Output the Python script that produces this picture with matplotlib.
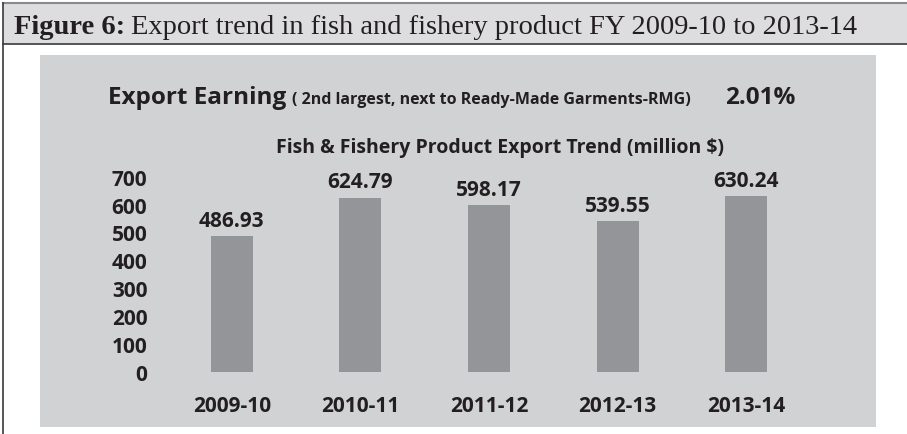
import matplotlib
matplotlib.use("Agg")
import matplotlib.pyplot as plt
from matplotlib.patches import Rectangle
from matplotlib.lines import Line2D

# Export values, million US$
years = ["2009-10", "2010-11", "2011-12", "2012-13", "2013-14"]
exports = [486.93, 624.79, 598.17, 539.55, 630.24]
y_ticks = [0, 100, 200, 300, 400, 500, 600, 700]
share_text = "2.01%"

W, H = 907, 435
DPI = 100
fig = plt.figure(figsize=(W / DPI, H / DPI), dpi=DPI)
fig.patch.set_facecolor("white")

SANS = "Open Sans"
SERIF = "Liberation Serif"
INK = "#231f20"
PANEL = "#d1d2d4"
BAR = "#939598"
HEADER = "#dddddf"


def fx(px):
    return px / W


def fy(py):
    return 1 - py / H


# header band with its frame
fig.patches.append(Rectangle((fx(3), fy(45)), fx(W - 3), 41 / H,
                             transform=fig.transFigure, facecolor=HEADER,
                             edgecolor="none", zorder=-2))
fig.lines.append(Line2D([fx(3), 1], [fy(4), fy(4)], transform=fig.transFigure,
                        color="#8a8a8a", lw=1.5))
fig.lines.append(Line2D([fx(3), 1], [fy(45), fy(45)], transform=fig.transFigure,
                        color="#3a3a3a", lw=1.2))
fig.lines.append(Line2D([fx(3), fx(3)], [fy(4), 0], transform=fig.transFigure,
                        color="#3a3a3a", lw=1.2))

# chart panel
fig.patches.append(Rectangle((fx(40), fy(428)), fx(876 - 40), (428 - 56) / H,
                             transform=fig.transFigure, facecolor=PANEL,
                             edgecolor="none", zorder=-2))

# header caption
renderer = fig.canvas.get_renderer()
t1 = fig.text(fx(14), fy(34), "Figure 6:", fontfamily=SERIF, fontweight="bold",
              fontsize=20.5, color=INK, va="baseline", ha="left")
bb = t1.get_window_extent(renderer)
fig.text((bb.x1 + 6) / W, fy(34),
         "Export trend in fish and fishery product FY 2009-10 to 2013-14",
         fontfamily=SERIF, fontsize=20.5, color=INK, va="baseline", ha="left")

# panel headings
t2 = fig.text(fx(108), fy(104), "Export Earning", fontfamily=SANS,
              fontweight="bold", fontsize=17.5, color=INK, va="baseline", ha="left")
bb2 = t2.get_window_extent(renderer)
fig.text((bb2.x1 + 6) / W, fy(104), "( 2nd largest, next to Ready-Made Garments-RMG)",
         fontfamily=SANS, fontweight="bold", fontsize=11.5, color=INK,
         va="baseline", ha="left")
fig.text(fx(725), fy(104), share_text, fontfamily=SANS, fontweight="bold",
         fontsize=17.5, color=INK, va="baseline", ha="left")
fig.text(fx(500), fy(153), "Fish & Fishery Product Export Trend (million $)",
         fontfamily=SANS, fontweight="bold", fontsize=14, color=INK,
         va="baseline", ha="center")

# bar chart axes
left_px, right_px = 167.5, 810.5
zero_px, top_px = 373, 373 - 700 * 0.279
ax = fig.add_axes([fx(left_px), fy(zero_px), fx(right_px - left_px),
                   (zero_px - top_px) / H])
ax.set_facecolor("none")
xs = range(len(years))
ax.bar(xs, exports, width=0.327, color=BAR, zorder=2)
for x, v in zip(xs, exports):
    ax.annotate(f"{v:.2f}", (x, v), xytext=(0, 7.5), textcoords="offset points",
                ha="center", va="baseline", fontfamily=SANS, fontweight="bold",
                fontsize=15, color=INK)
ax.set_xlim(-0.5, len(years) - 0.5)
ax.set_ylim(0, 700)
ax.set_yticks(y_ticks)
ax.set_yticklabels([str(t) for t in y_ticks])
ax.set_xticks(list(xs))
ax.set_xticklabels(years)
ax.tick_params(axis="both", length=0, colors=INK)
ax.tick_params(axis="y", pad=14.5)
ax.tick_params(axis="x", pad=16.5)
for lab in ax.get_yticklabels() + ax.get_xticklabels():
    lab.set_fontfamily(SANS)
    lab.set_fontweight("bold")
    lab.set_fontsize(15)
for s in ax.spines.values():
    s.set_visible(False)

fig.savefig("out.png", dpi=DPI)
